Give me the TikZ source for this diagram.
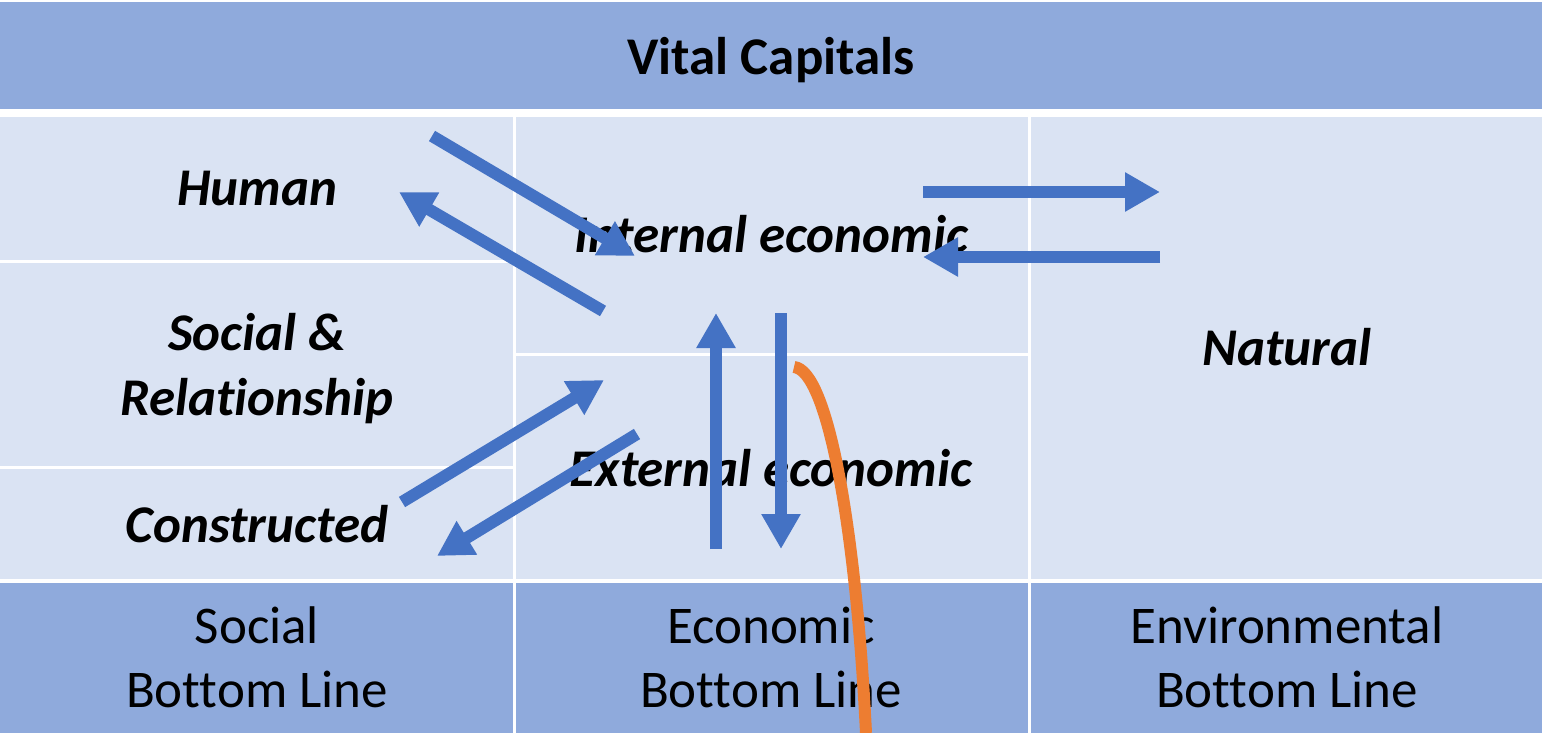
\documentclass[tikz,border=0pt]{standalone}
\usepackage{fontspec}
\setmainfont{Carlito}[Ligatures=CommonOff]
\usetikzlibrary{arrows.meta}
\definecolor{hdr}{HTML}{8FAADC}
\definecolor{cellc}{HTML}{DAE3F3}
\definecolor{arr}{HTML}{4472C4}
\definecolor{orng}{HTML}{ED7D31}
\tikzset{
  hdrbox/.style={fill=hdr},
  cellbox/.style={fill=cellc},
  capital/.style={font=\fontsize{53}{64}\selectfont\bfseries\itshape, inner sep=0pt, anchor=base},
  title/.style={font=\fontsize{53}{64}\selectfont\bfseries, inner sep=0pt, anchor=base},
  bline/.style={font=\fontsize{53}{64}\selectfont, inner sep=0pt, anchor=base},
  flow/.style={draw=arr, line width=12pt, -{Triangle[length=35pt,width=37pt]}},
  curveline/.style={draw=orng, line width=12pt},
}
\begin{document}
\begin{tikzpicture}[x=1pt,y=-1pt]
\useasboundingbox (0,0) rectangle (1542,733);
\fill[white] (0,0) rectangle (1542,733);
% header
\fill[hdrbox] (0,2) rectangle (1542,109);
% left column cells
\fill[cellbox] (0,117) rectangle (513,260);
\fill[cellbox] (0,263) rectangle (513,466);
\fill[cellbox] (0,469) rectangle (513,579);
% middle column cells
\fill[cellbox] (516,117) rectangle (1028,353);
\fill[cellbox] (516,356) rectangle (1028,579);
% right column
\fill[cellbox] (1031,117) rectangle (1542,579);
% bottom row
\fill[hdrbox] (0,583) rectangle (513,733);
\fill[hdrbox] (516,583) rectangle (1028,733);
\fill[hdrbox] (1031,583) rectangle (1542,733);

% texts
\node[title] (vital) at (771,75) {Vital Capitals};
\node[capital] (human) at (257,205) {Human};
\node[capital] (social) at (257,350) {Social \&};
\node[capital] (relat) at (257,415) {Relationship};
\node[capital] (constr) at (257,542) {Constructed};
\node[capital] (internal) at (771,252) {Internal economic};
\node[capital] (external) at (771,486) {External economic};
\node[capital] (natural) at (1287,365) {Natural};
\node[bline] (sbl1) at (257,643) {Social};
\node[bline] (sbl2) at (257,707) {Bottom Line};
\node[bline] (ebl1) at (771,643) {Economic};
\node[bline] (ebl2) at (771,707) {Bottom Line};
\node[bline] (nbl1) at (1287,643) {Environmental};
\node[bline] (nbl2) at (1287,707) {Bottom Line};

% arrow end points
\coordinate (a1s) at (432,136);
\coordinate (a1e) at (635,256);
\coordinate (a2s) at (603,311);
\coordinate (a2e) at (399,192);
\coordinate (a3s) at (923,192);
\coordinate (a3e) at (1160,192);
\coordinate (a4s) at (1160,257);
\coordinate (a4e) at (923,257);
\coordinate (a5s) at (716,549);
\coordinate (a5e) at (716,313);
\coordinate (a6s) at (781,313);
\coordinate (a6e) at (781,549);
\coordinate (a7s) at (402,502);
\coordinate (a7e) at (604,380);
\coordinate (a8s) at (637,434);
\coordinate (a8e) at (437,556);
\coordinate (os) at (794,367);
\coordinate (oe) at (866,733);

\draw[flow] (a1s) -- (a1e);
\draw[flow] (a2s) -- (a2e);
\draw[flow] (a3s) -- (a3e);
\draw[flow] (a4s) -- (a4e);
\draw[flow] (a5s) -- (a5e);
\draw[flow] (a6s) -- (a6e);
\draw[flow] (a7s) -- (a7e);
\draw[flow] (a8s) -- (a8e);
\draw[curveline] (os) .. controls (828,370) and (856,530) .. (oe);
\end{tikzpicture}
\end{document}
